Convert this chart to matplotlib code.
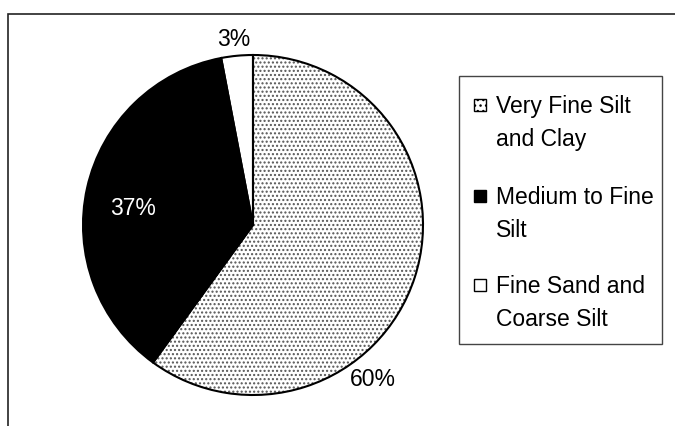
import matplotlib
matplotlib.use("Agg")
import matplotlib.pyplot as plt
from matplotlib.patches import Rectangle
import numpy as np

categories = ["Very Fine Silt\nand Clay", "Medium to Fine\nSilt", "Fine Sand and\nCoarse Silt"]
values = [60, 37, 3]
pct_labels = ["60%", "37%", "3%"]
face_colors = ["white", "black", "white"]
hatches = ["....", None, None]
label_colors = ["black", "white", "black"]

W, H = 675, 426
fig = plt.figure(figsize=(W / 100, H / 100), dpi=100)
plt.rcParams["font.family"] = ["Liberation Sans", "DejaVu Sans"]
FS = 16.5


def px(x, y):
    return x / W, 1 - y / H


# outer chart frame (only left and top visible)
fig.patches.append(Rectangle(px(8, 700), 1000 / W, (700 - 14) / H, transform=fig.transFigure,
                             fill=False, edgecolor="#222222", linewidth=1.2))

cx, cy, r = 253, 225, 170
ax = fig.add_axes([(cx - r) / W, (H - cy - r) / H, 2 * r / W, 2 * r / H])

wedges, _ = ax.pie(values, startangle=90, counterclock=False, radius=1,
                   colors=face_colors,
                   wedgeprops=dict(linewidth=0, edgecolor="#666666"))
for w, h in zip(wedges, hatches):
    if h:
        w.set_hatch(h)
        w.set_edgecolor("#555555")
# outlines
outline, _ = ax.pie(values, startangle=90, counterclock=False, radius=1,
                    wedgeprops=dict(fill=False, linewidth=1.5, edgecolor="black"))
ax.set_xlim(-1, 1)
ax.set_ylim(-1, 1)
ax.set_aspect("equal")
ax.axis("off")

# percentage labels (Excel best-fit placement)
label_place = {0: (-52, 1.15), 1: (172, 0.71), 2: (96, 1.10)}
for i, w in enumerate(wedges):
    ang, dist = label_place[i]
    a = np.deg2rad(ang)
    ax.text(dist * np.cos(a), dist * np.sin(a), pct_labels[i], ha="center", va="center",
            fontsize=FS, color=label_colors[i], clip_on=False)

# legend box
lx0, ly0, lx1, ly1 = 459, 76, 662, 344
fig.patches.append(Rectangle(px(lx0, ly1), (lx1 - lx0) / W, (ly1 - ly0) / H,
                             transform=fig.transFigure, fill=True, facecolor="white",
                             edgecolor="#444444", linewidth=1.0))
first_line_y = [105, 196, 285]
for i, cat in enumerate(categories):
    y = first_line_y[i]
    sq = Rectangle(px(474, y + 6), 12 / W, 12 / H, transform=fig.transFigure,
                   facecolor=face_colors[i], edgecolor="black", linewidth=1.0,
                   hatch=("..." if hatches[i] else None))
    fig.patches.append(sq)
    tx, ty = px(496, y)
    fig.text(tx, ty + 10 / H, cat, ha="left", va="top", fontsize=FS, linespacing=1.55,
             color="black")

fig.savefig("out.png", dpi=100)
